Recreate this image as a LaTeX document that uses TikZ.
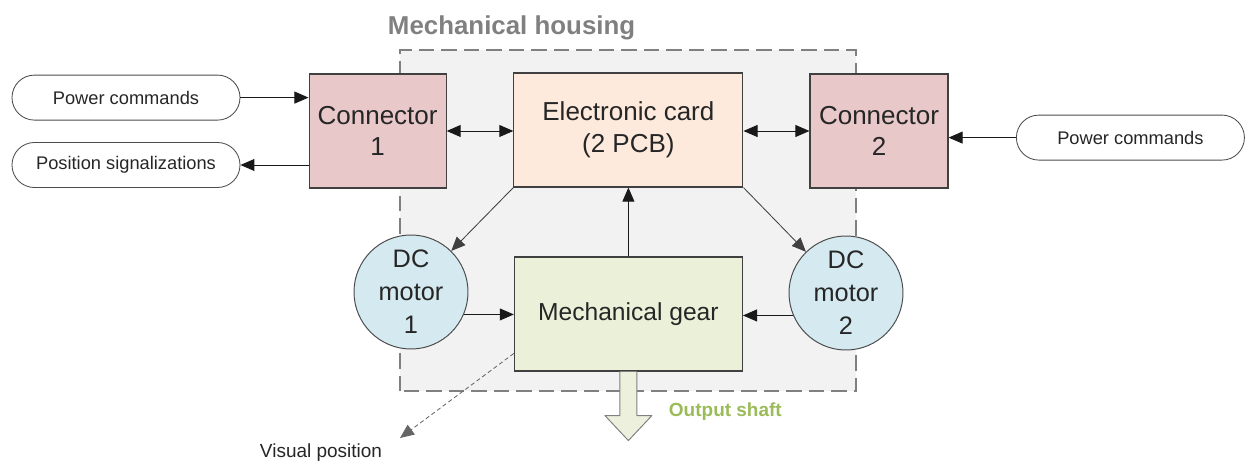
\documentclass[tikz,border=0pt]{standalone}
\usepackage{fontspec}
\setmainfont{Liberation Sans}
\usetikzlibrary{arrows.meta}
\definecolor{conpink}{HTML}{E8C8C8}
\definecolor{cardpeach}{HTML}{FDEADC}
\definecolor{gearbeige}{HTML}{EBF0D9}
\definecolor{motorblue}{HTML}{D4E9F0}
\definecolor{housegray}{HTML}{F2F2F2}
\definecolor{shaftgreen}{HTML}{9BBB59}
\definecolor{shaftfill}{HTML}{EEF0DE}

\begin{document}
\begin{tikzpicture}[
  box/.style={draw=black!75, line width=0.8pt, minimum height=2.85cm, align=center, text=black!85, font=\fontsize{18.5}{22.5}\selectfont},
  pill/.style={draw=black!70, line width=0.6pt, rounded corners=0.56cm, minimum width=5.7cm, minimum height=1.125cm, text=black!85, font=\fontsize{13}{15}\selectfont},
  motor/.style={circle, draw=black!70, line width=0.7pt, fill=motorblue, minimum size=2.85cm, inner sep=0pt, align=center, text=black!85, font=\fontsize{18}{23.5}\selectfont},
  arr/.style={-{Triangle[length=10pt,width=8.5pt]}, line width=0.7pt, black!90},
  twoarr/.style={{Triangle[length=10pt,width=8.5pt]}-{Triangle[length=10pt,width=8.5pt]}, line width=0.7pt, black!90},
  diag/.style={-{Triangle[length=10pt,width=8.5pt]}, line width=0.6pt, black!75}
]
\useasboundingbox (0,0) rectangle (31.2,11.6);
\draw[draw=black!50, fill=housegray, line width=1.1pt, dash pattern=on 11pt off 5pt] (10,1.825) rectangle (21.4,10.35);
\node[anchor=west, text=black!50, font=\bfseries\fontsize{18.4}{22}\selectfont] (hlabel) at (9.575,10.9) {Mechanical housing};

\node[box, fill=conpink, minimum width=3.425cm] (con1) at (9.44,8.325) {Connector\\1};
\node[box, fill=cardpeach, minimum width=5.725cm] (card) at (15.71,8.35) {Electronic card\\(2 PCB)};
\node[box, fill=conpink, minimum width=3.45cm] (con2) at (21.975,8.325) {Connector\\2};
\node[box, fill=gearbeige, minimum width=5.7cm, font=\fontsize{17.5}{21}\selectfont] (gear) at (15.71,3.75) {Mechanical gear};
\node[motor] (m1) at (10.275,4.3) {DC\\motor\\1};
\node[motor] (m2) at (21.15,4.275) {DC\\motor\\2};

\node[pill] (pc1) at (3.15,9.16) {Power commands};
\node[pill] (pos) at (3.15,7.475) {Position signalizations};
\node[pill] (pc2) at (28.26,8.16) {Power commands};

% output shaft
\draw[draw=black!50, fill=shaftfill, line width=0.7pt, line join=round] (gear.south) ++(-0.2125,0) -- ++(0,-1.1) -- ++(-0.375,0) -- ++(0.5875,-0.625) -- ++(0.5875,0.625) -- ++(-0.375,0) -- ++(0,1.1);
\node[anchor=west, text=shaftgreen, font=\bfseries\fontsize{13.5}{16}\selectfont] (shaft) at (16.6,1.3) {Output shaft};

\draw[arr] (pc1.east) -- (pc1.east -| con1.west);
\draw[arr] (pos.east -| con1.west) -- (pos.east);
\draw[arr] (pc2.west) -- (pc2.west -| con2.east);
\draw[twoarr] (con1.east) -- (con1.east -| card.west);
\draw[twoarr] (con2.west -| card.east) -- (con2.west);
\draw[arr] (gear.north) -- (card.south);
\draw[diag] (card.south west) -- (m1);
\draw[diag] (card.south east) -- (m2);
\draw[arr] (m1.-23) -- (m1.-23 -| gear.west);
\draw[arr] (m2.203) -- (m2.203 -| gear.east);

\coordinate (vp) at (10.0,0.65);
\draw[diag, black!60, dash pattern=on 3pt off 2pt] (gear.199) -- (vp);
\node[text=black!85, font=\fontsize{13.5}{16}\selectfont] (vplabel) at (8.025,0.28) {Visual position};
\end{tikzpicture}
\end{document}
